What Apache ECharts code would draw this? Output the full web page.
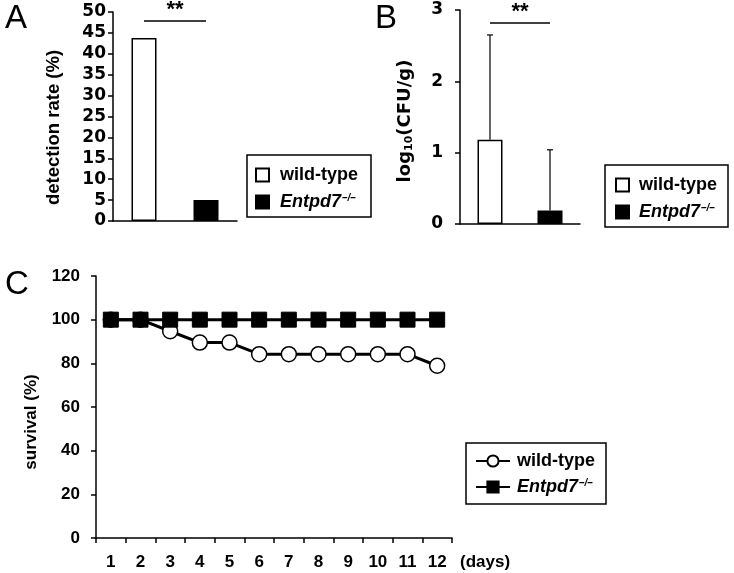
<!DOCTYPE html>
<html>
<head>
<meta charset="utf-8">
<script src="https://cdn.jsdelivr.net/npm/echarts@6/dist/echarts.min.js"></script>
<style>
  html, body { margin: 0; padding: 0; background: #fff; }
  #main { width: 734px; height: 573px; }
</style>
</head>
<body>
<div id="main"></div>
<script>
// panel A: detection rate
const groups = ['wild-type', 'Entpd7'];
const detectionRate = [43.8, 5.0];
const sigA = 47.8;

// panel B: log10(CFU/g), mean and upper error
const cfuMean = [1.18, 0.19];
const cfuErr = [1.47, 0.85];
const sigB = 2.82;

// panel C: survival over days
const days = ['1', '2', '3', '4', '5', '6', '7', '8', '9', '10', '11', '12'];
const survivalWT = [100, 100, 94.7, 89.5, 89.5, 84.2, 84.2, 84.2, 84.2, 84.2, 84.2, 78.9];
const survivalKO = [100, 100, 100, 100, 100, 100, 100, 100, 100, 100, 100, 100];

const FONT = 'Liberation Sans';
const WIDE = 'DejaVu Sans';
const black = '#000';

// legend text styles; gap = extra space between icon and text
const richFor = (size, gap) => ({
  b: { fontFamily: FONT, fontWeight: 'bold', fontSize: size, lineHeight: 18, color: black, padding: [0, 0, 0, gap] },
  i: { fontFamily: FONT, fontWeight: 'bold', fontStyle: 'italic', fontSize: size, lineHeight: 18, color: black, padding: [0, 0, 0, gap] },
  s: { fontFamily: FONT, fontWeight: 'bold', fontStyle: 'italic', fontSize: 10, lineHeight: 10, color: black, verticalAlign: 'top', padding: [0, 0, 0, 1] }
});

const legendFormatter = name => {
  const g = name.split('|')[1];
  return g === 'wild-type' ? '{b|wild-type}' : '{i|Entpd7}{s|–/–}';
};

const line = () => ({ show: true, lineStyle: { color: black, width: 1.5 } });
const tick = () => ({ show: true, inside: false, interval: 0, length: 5, lineStyle: { color: black, width: 1.5 } });
const tickLabel = (m, fam) => ({ color: black, fontFamily: fam || FONT, fontWeight: 'bold', fontSize: 17, margin: m });
const axisName = (size, extra) => Object.assign({ color: black, fontFamily: FONT, fontWeight: 'bold', fontSize: size }, extra);

const boxLegend = (pos, names, gap, extra) => Object.assign({
  orient: 'vertical',
  data: names,
  borderColor: black,
  borderWidth: 1.5,
  borderRadius: 0,
  formatter: legendFormatter,
  textStyle: { rich: richFor(18, gap), fontSize: 18 },
  selectedMode: false
}, pos, extra);

const option = {
  animation: false,
  backgroundColor: '#fff',
  title: [
    { text: 'A', left: 0, top: -3, textStyle: { fontFamily: FONT, fontWeight: 'normal', fontSize: 33, color: black } },
    { text: 'B', left: 370, top: -3, textStyle: { fontFamily: FONT, fontWeight: 'normal', fontSize: 33, color: black } },
    { text: 'C', left: 0, top: 263, textStyle: { fontFamily: FONT, fontWeight: 'normal', fontSize: 33, color: black } }
  ],
  legend: [
    boxLegend({ left: 247, top: 155 }, ['A|wild-type', 'A|Entpd7'], 6, {
      icon: 'rect', padding: [11, 13, 6, 8], itemWidth: 13, itemHeight: 13, itemGap: 9
    }),
    boxLegend({ left: 605, top: 165 }, ['B|wild-type', 'B|Entpd7'], 5, {
      icon: 'rect', padding: [11, 11, 6, 10], itemWidth: 13, itemHeight: 13, itemGap: 9
    }),
    boxLegend({ left: 466, top: 443 }, ['C|wild-type', 'C|Entpd7'], 2, {
      padding: [9, 11, 8, 9], itemWidth: 34, itemHeight: 14, itemGap: 8
    })
  ],
  grid: [
    { left: 113, top: 12, width: 124, height: 209, outerBoundsMode: 'none' },
    { left: 460, top: 10, width: 120, height: 214, outerBoundsMode: 'none' },
    { left: 96, top: 276, width: 356, height: 262, outerBoundsMode: 'none' }
  ],
  xAxis: [
    { type: 'category', gridIndex: 0, data: groups, axisLine: line(), axisTick: { show: false }, axisLabel: { show: false } },
    { type: 'category', gridIndex: 1, data: groups, axisLine: line(), axisTick: { show: false }, axisLabel: { show: false } },
    {
      type: 'category', gridIndex: 2, data: days, axisLine: line(), axisTick: tick(),
      axisLabel: tickLabel(16),
      name: '(days)', nameLocation: 'end', nameGap: 8,
      nameTextStyle: axisName(17, { verticalAlign: 'top', lineHeight: 48 })
    }
  ],
  yAxis: [
    {
      type: 'value', gridIndex: 0, min: 0, max: 50, interval: 5,
      axisLine: line(), axisTick: tick(), splitLine: { show: false },
      axisLabel: tickLabel(7, WIDE),
      name: 'detection rate (%)', nameLocation: 'middle', nameRotate: 90, nameGap: 50,
      nameTextStyle: axisName(18.5, { padding: [0, 22, 0, 0] })
    },
    {
      type: 'value', gridIndex: 1, min: 0, max: 3, interval: 1,
      axisLine: line(), axisTick: tick(), splitLine: { show: false },
      axisLabel: tickLabel(17, WIDE),
      name: '{b|log}{sub|10}{b|(CFU/g)}', nameLocation: 'middle', nameRotate: 90, nameGap: 45,
      nameTextStyle: axisName(18, {
        padding: [0, 8, 0, 0],
        rich: {
          b: { fontFamily: WIDE, fontWeight: 'bold', fontSize: 18, lineHeight: 20, color: black },
          sub: { fontFamily: WIDE, fontWeight: 'bold', fontSize: 11, lineHeight: 11, color: black, verticalAlign: 'bottom' }
        }
      })
    },
    {
      type: 'value', gridIndex: 2, min: 0, max: 120, interval: 20,
      axisLine: line(), axisTick: tick(), splitLine: { show: false },
      axisLabel: tickLabel(16),
      name: 'survival (%)', nameLocation: 'middle', nameRotate: 90, nameGap: 56,
      nameTextStyle: axisName(17, { padding: [0, 30, 0, 0] })
    }
  ],
  series: [
    {
      name: 'A|wild-type', type: 'bar', xAxisIndex: 0, yAxisIndex: 0, barWidth: 25, barGap: '-100%',
      data: [detectionRate[0], '-'],
      itemStyle: { color: '#fff', borderColor: black, borderWidth: 1.5 },
      markLine: {
        silent: true, symbol: 'none',
        lineStyle: { color: black, width: 1.5, type: 'solid' },
        label: { show: true, position: 'middle', formatter: '**', color: black, fontFamily: FONT, fontWeight: 'bold', fontSize: 22, distance: 0 },
        data: [[{ coord: [groups[0], sigA] }, { coord: [groups[1], sigA] }]]
      }
    },
    {
      name: 'A|Entpd7', type: 'bar', xAxisIndex: 0, yAxisIndex: 0, barWidth: 25, barGap: '-100%',
      data: ['-', detectionRate[1]],
      itemStyle: { color: black, borderColor: black, borderWidth: 1.5 }
    },
    {
      name: 'B|wild-type', type: 'bar', xAxisIndex: 1, yAxisIndex: 1, barWidth: 25, barGap: '-100%',
      data: [cfuMean[0], '-'],
      itemStyle: { color: '#fff', borderColor: black, borderWidth: 1.5 },
      markLine: {
        silent: true, symbol: 'none',
        lineStyle: { color: black, width: 1.5, type: 'solid' },
        label: { show: true, position: 'middle', formatter: '**', color: black, fontFamily: FONT, fontWeight: 'bold', fontSize: 22, distance: 0 },
        data: [[{ coord: [groups[0], sigB] }, { coord: [groups[1], sigB] }]]
      }
    },
    {
      name: 'B|Entpd7', type: 'bar', xAxisIndex: 1, yAxisIndex: 1, barWidth: 25, barGap: '-100%',
      data: ['-', cfuMean[1]],
      itemStyle: { color: black, borderColor: black, borderWidth: 1.5 }
    },
    {
      name: 'errors', type: 'custom', xAxisIndex: 1, yAxisIndex: 1, z: 1,
      data: cfuMean.map((m, i) => [i, m, m + cfuErr[i]]),
      renderItem: (params, api) => {
        const base = api.coord([api.value(0), api.value(1)]);
        const top = api.coord([api.value(0), api.value(2)]);
        const style = { stroke: black, lineWidth: 1.2 };
        return {
          type: 'group',
          children: [
            { type: 'line', shape: { x1: base[0], y1: base[1], x2: top[0], y2: top[1] }, style: style },
            { type: 'line', shape: { x1: top[0] - 3, y1: top[1], x2: top[0] + 3, y2: top[1] }, style: style }
          ]
        };
      }
    },
    {
      name: 'C|wild-type', type: 'line', xAxisIndex: 2, yAxisIndex: 2,
      data: survivalWT,
      symbol: 'circle', symbolSize: 15,
      lineStyle: { color: black, width: 3 },
      itemStyle: { color: '#fff', borderColor: black, borderWidth: 1.5 }
    },
    {
      name: 'C|Entpd7', type: 'line', xAxisIndex: 2, yAxisIndex: 2,
      data: survivalKO,
      symbol: 'rect', symbolSize: 15,
      lineStyle: { color: black, width: 3 },
      itemStyle: { color: black, borderColor: black, borderWidth: 1 }
    }
  ]
};

const chart = echarts.init(document.getElementById('main'));
chart.setOption(option);
</script>
</body>
</html>
